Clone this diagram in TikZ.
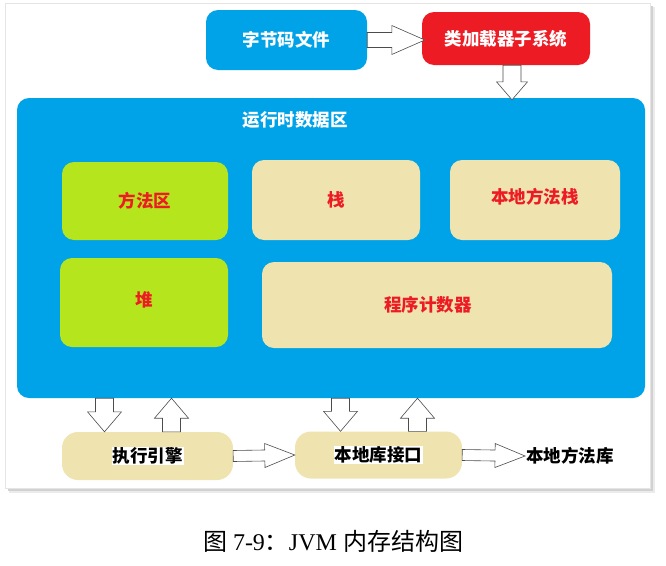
\documentclass[tikz,border=0pt]{standalone}
\usepackage{fontspec}
\setmainfont{Liberation Serif}
\newfontfamily\cjk{Noto Sans CJK SC}
\usetikzlibrary{calc}

\definecolor{jvmBlue}{HTML}{00A2E8}
\definecolor{jvmRed}{HTML}{ED1C24}
\definecolor{jvmGreen}{HTML}{B5E61D}
\definecolor{jvmBeige}{HTML}{EFE4B0}

\tikzset{
  jvmbox/.style={rounded corners=12pt, inner sep=0pt,
    font=\cjk\bfseries\fontsize{17.5}{17.5}\selectfont},
  bluebox/.style={jvmbox, fill=jvmBlue, text=white},
  redbox/.style={jvmbox, fill=jvmRed, text=white},
  areabox/.style={jvmbox, fill=#1, text=jvmRed},
  enginebox/.style={jvmbox, rounded corners=16pt, fill=jvmBeige, text=black},
  blockarrow/.style={draw=black!70, fill=white, line width=0.6pt, line join=miter},
}

% block arrow: from, to, shaft half width, head half width, head length
\newcommand{\blkarrow}[5]{%
  \path[blockarrow] let \p1=(#1), \p2=(#2),
      \n1={atan2(\y2-\y1,\x2-\x1)}, \n2={veclen(\x2-\x1,\y2-\y1)} in
    [shift={(\p1)}, rotate=\n1]
    (0pt,-#3pt) -- (\n2-#5pt,-#3pt) -- (\n2-#5pt,-#4pt) -- (\n2,0pt)
    -- (\n2-#5pt,#4pt) -- (\n2-#5pt,#3pt) -- (0pt,#3pt) -- cycle;}

\begin{document}
\begin{tikzpicture}[x=1pt, y=1pt]
\useasboundingbox (0,0) rectangle (666,-565);
% Panel with shadow
\fill[black!8] (9,-7) rectangle (655,-493);
\fill[black!18] (8,-6) rectangle (653,-491);
\fill[black!30] (7,-5) rectangle (651,-489);
\draw[black!10, fill=white] (5,-3) rectangle (650,-488);

% Loading
\node[bluebox, minimum width=161pt, minimum height=60pt] (code) at (286.5,-40) {字节码文件};
\node[redbox, minimum width=168pt, minimum height=53pt] (loader) at (506,-38.5) {类加载器子系统};

% Runtime data area
\node[jvmbox, fill=jvmBlue, minimum width=628pt, minimum height=300pt] (rtda) at (331,-248) {};
\node[jvmbox, text=white] (rtdaTitle) at (295,-120) {运行时数据区};
\node[areabox=jvmGreen, minimum width=166pt, minimum height=78pt] (method) at (145,-201) {方法区};
\node[areabox=jvmBeige, minimum width=168pt, minimum height=80pt] (stack) at (336,-200) {栈};
\node[areabox=jvmBeige, minimum width=170pt, minimum height=80pt] (nstack) at (535,-200) {\raisebox{8pt}{本地方法栈}};
\node[areabox=jvmGreen, minimum width=168pt, minimum height=89pt] (heap) at (144,-302.5) {\raisebox{6pt}{堆}};
\node[areabox=jvmBeige, minimum width=350pt, minimum height=86pt] (pc) at (437,-305) {\hspace*{-18pt}\raisebox{2pt}{程序计数器}};

% Execution
\node[enginebox, minimum width=171pt, minimum height=48pt] (exec) at (147.5,-456) {\fboxsep=1pt\colorbox{white}{执行引擎}};
\node[enginebox, minimum width=167pt, minimum height=47pt] (nif) at (378.5,-455) {\fboxsep=1pt\colorbox{white}{本地库接口}};
\node[font=\cjk\bfseries\fontsize{17.5}{17.5}\selectfont, inner sep=1pt] (lib) at (570,-456) {本地方法库};

% Arrows
\blkarrow{code.east}{$(code.east -| loader.west)+(3,0)$}{7.5}{14.5}{33}
\blkarrow{$(loader.south)+(6,0)$}{$(rtda.north -| loader.south)+(6,-2)$}{9}{15.5}{18}
\blkarrow{$(exec.north |- rtda.south)+(-43,0)$}{$(exec.north)+(-43,0)$}{9}{17}{20}
\blkarrow{$(exec.north)+(24,0)$}{$(exec.north |- rtda.south)+(24,0)$}{9}{17}{20}
\blkarrow{$(nif.north |- rtda.south)+(-38,0)$}{$(nif.north)+(-38,0)$}{9}{17}{20}
\blkarrow{$(nif.north)+(39,0)$}{$(nif.north |- rtda.south)+(39,0)$}{9}{17}{20}
\blkarrow{exec.east}{nif.west}{5.5}{12}{30}
\blkarrow{nif.east}{lib.west}{5.5}{12}{30}

% Caption
\node[font=\fontsize{24}{24}\selectfont] (caption) at (333,-541) {{\cjk 图} 7-9{\cjk ：}JVM {\cjk 内存结构图}};
\end{tikzpicture}
\end{document}
